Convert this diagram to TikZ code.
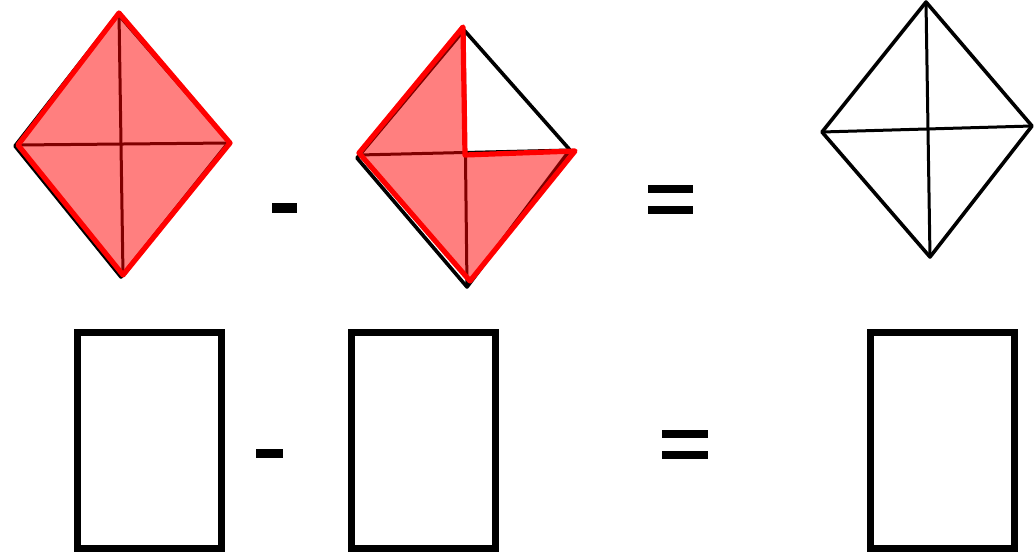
\documentclass[tikz,border=0pt]{standalone}
\begin{document}
\begin{tikzpicture}[x=1pt,y=-1pt]
\tikzset{
  blk/.style={draw=black, line width=3.6pt, line join=round},
  crossline/.style={draw=black, line width=3pt},
  redfill/.style={fill=red, fill opacity=0.5},
  redline/.style={draw=red, line width=5.2pt, line join=round},
  box/.style={draw=black, line width=7pt},
  bar/.style={fill=black},
}
\useasboundingbox (0,0) rectangle (1034,553);
\fill[white] (0,0) rectangle (1034,553);

% ---- Diamond 1 ----
\coordinate (a1t) at (119,13);
\coordinate (a1l) at (18,145);
\coordinate (a1b) at (123,275);
\coordinate (a1r) at (230,143);
\draw[blk] (118,14) -- (15,146) -- (121,277) -- (229,142) -- cycle;
\draw[crossline] (a1t) -- (a1b);
\draw[crossline] (a1l) -- (a1r);
\fill[redfill] (a1t) -- (a1l) -- (a1b) -- (a1r) -- cycle;
\draw[redline] (a1t) -- (a1l) -- (a1b) -- (a1r) -- cycle;

% ---- Diamond 2 ----
\coordinate (b2t) at (464,30);
\coordinate (b2l) at (357,158);
\coordinate (b2b) at (467,287);
\coordinate (b2r) at (570,150);
\draw[blk] (b2t) -- (b2l) -- (b2b) -- (b2r) -- cycle;
\draw[crossline] (b2t) -- (b2b);
\draw[crossline] (359,155) -- (b2r);
\coordinate (r2c) at (465,155);
\coordinate (r2t) at (463,27);
\coordinate (r2l) at (359,153);
\coordinate (r2b) at (470,281);
\coordinate (r2r) at (575,151);
\fill[redfill] (r2c) -- (r2t) -- (r2l) -- (r2b) -- (r2r) -- cycle;
\draw[redline] (r2c) -- (r2t) -- (r2l) -- (r2b) -- (r2r) -- cycle;

% ---- Diamond 3 ----
\coordinate (c3t) at (926,2);
\coordinate (c3l) at (822,132);
\coordinate (c3b) at (930,257);
\coordinate (c3r) at (1032,126);
\draw[blk] (c3t) -- (c3l) -- (c3b) -- (c3r) -- cycle;
\draw[crossline] (c3t) -- (c3b);
\draw[crossline] (c3l) -- (c3r);

% ---- operators, top row ----
\fill[bar] (272,203) rectangle (297,213);
\fill[bar] (648,185) rectangle (693,193);
\fill[bar] (648,206) rectangle (693,214);

% ---- rectangles ----
\draw[box] (77.5,332.5) rectangle (221.5,548.5);
\draw[box] (351.5,332.5) rectangle (495.5,548.5);
\draw[box] (870.5,332.5) rectangle (1014.5,548.5);

% ---- operators, bottom row ----
\fill[bar] (256,449) rectangle (283,458);
\fill[bar] (662,430) rectangle (708,438);
\fill[bar] (662,451) rectangle (708,459);
\end{tikzpicture}
\end{document}
